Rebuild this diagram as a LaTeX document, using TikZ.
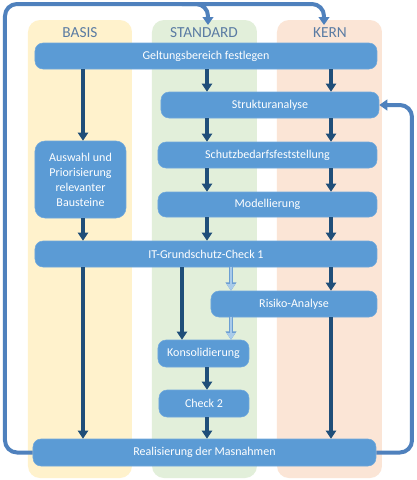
\documentclass[tikz,border=0pt]{standalone}
\usepackage{fontspec}
\setmainfont{Carlito}
\usetikzlibrary{arrows.meta}
\definecolor{boxblue}{HTML}{5B9BD5}
\definecolor{boxedge}{HTML}{6FA8DC}
\definecolor{darkarr}{HTML}{1F4E79}
\definecolor{loopblue}{HTML}{4F81BD}
\definecolor{lightarr}{HTML}{A9CBEA}
\definecolor{lightedge}{HTML}{6C9FD3}
\definecolor{basisbg}{HTML}{FFF2CC}
\definecolor{standbg}{HTML}{E2EFDA}
\definecolor{kernbg}{HTML}{FBE5D6}
\definecolor{headtxt}{HTML}{5A7BA3}
\begin{document}
\begin{tikzpicture}[x=0.75pt,y=-0.75pt,
  pbox/.style 2 args={fill=boxblue, draw=boxedge, line width=0.4pt, rounded corners=6pt, text=white,
    font=\fontsize{9}{11.25}\selectfont, minimum width=#1*0.75pt, minimum height=#2*0.75pt,
    inner sep=0pt, align=center},
  colhead/.style={text=headtxt, font=\fontsize{11.5}{13}\selectfont, inner sep=0pt},
  colbg/.style={rounded corners=9pt},
  darr/.style={draw=darkarr, line width=3pt, -{Triangle[width=7.5pt,length=6pt]}},
  larr/.style={draw=lightarr, line width=2.2pt, -{Triangle[width=6pt,length=5pt]},
    preaction={draw=lightedge, line width=3.6pt, -{Triangle[width=7.8pt,length=6.2pt]}}},
  loopline/.style={draw=loopblue, line width=3pt, rounded corners=9pt, -{Triangle[width=8pt,length=6pt]}}
]
\useasboundingbox (0,0) rectangle (417,480);
\fill[white] (0,0) rectangle (417,480);
% column backgrounds
\fill[basisbg, colbg] (28,20) rectangle (132,478);
\fill[standbg, colbg] (152,20) rectangle (257,478);
\fill[kernbg, colbg] (277,20) rectangle (382,478);
% headers
\node[colhead] (hB) at (80,33) {BASIS};
\node[colhead] (hS) at (204,33) {STANDARD};
\node[colhead] (hK) at (330,33) {KERN};
% boxes
\node[pbox={342}{26}] (gelt) at (206,56) {Geltungsbereich festlegen};
\node[pbox={218}{26}] (struk) at (270,105) {Strukturanalyse};
\node[pbox={91}{77}, rounded corners=7.5pt] (ausw) at (80.5,179.5) {Auswahl und\\Priorisierung\\relevanter\\Bausteine};
\node[pbox={219}{26}] (schutz) at (267.5,155) {Schutzbedarfsfeststellung};
\node[pbox={219}{25}] (modell) at (267.5,204.5) {Modellierung};
\node[pbox={342}{26}] (itc) at (206,254) {IT-Grundschutz-Check 1};
\node[pbox={166}{26}] (risiko) at (294,304) {Risiko-Analyse};
\node[pbox={91}{27}] (kons) at (203.5,353.5) {Konsolidierung};
\node[pbox={90}{27}] (check) at (204,403.5) {Check 2};
\node[pbox={343}{27}] (real) at (204.5,452.5) {Realisierung der Masnahmen};
% helper coordinates
\coordinate (xB) at (83,0);
\coordinate (xS) at (207,0);
\coordinate (xK) at (331,0);
\coordinate (xC) at (182,0);
\coordinate (xL) at (231,0);
\coordinate (xR) at (412,0);
\coordinate (xLf) at (5,0);
\coordinate (yTop) at (0,4);
\coordinate (tS) at (208,25);
\coordinate (tK) at (324,25);
% BASIS column
\draw[darr] (gelt.south -| xB) -- (ausw.north -| xB);
\draw[darr] (ausw.south -| xB) -- (itc.north -| xB);
\draw[darr] (itc.south -| xB) -- (real.north -| xB);
% STANDARD column
\draw[darr] (gelt.south -| xS) -- (struk.north -| xS);
\draw[darr] (struk.south -| xS) -- (schutz.north -| xS);
\draw[darr] (schutz.south -| xS) -- (modell.north -| xS);
\draw[darr] (modell.south -| xS) -- (itc.north -| xS);
\draw[darr] (itc.south -| xC) -- (kons.north -| xC);
\draw[larr] (itc.south -| xL) -- (risiko.north -| xL);
\draw[larr] (risiko.south -| xL) -- (kons.north -| xL);
\draw[darr] (kons.south -| xS) -- (check.north -| xS);
\draw[darr] (check.south -| xS) -- (real.north -| xS);
% KERN column
\draw[darr] (gelt.south -| xK) -- (struk.north -| xK);
\draw[darr] (struk.south -| xK) -- (schutz.north -| xK);
\draw[darr] (schutz.south -| xK) -- (modell.north -| xK);
\draw[darr] (modell.south -| xK) -- (itc.north -| xK);
\draw[darr] (itc.south -| xK) -- (risiko.north -| xK);
\draw[darr] (risiko.south -| xK) -- (real.north -| xK);
% feedback loops
\draw[loopline] (real.west) -- (real.west -| xLf) -- (xLf |- yTop) -- (yTop -| tS) -- (tS);
\draw[loopline] (yTop -| xC) -- (yTop -| tK) -- (tK);
\draw[loopline] (real.east) -- (real.east -| xR) -- (xR |- struk.east) -- (struk.east);
\end{tikzpicture}
\end{document}
